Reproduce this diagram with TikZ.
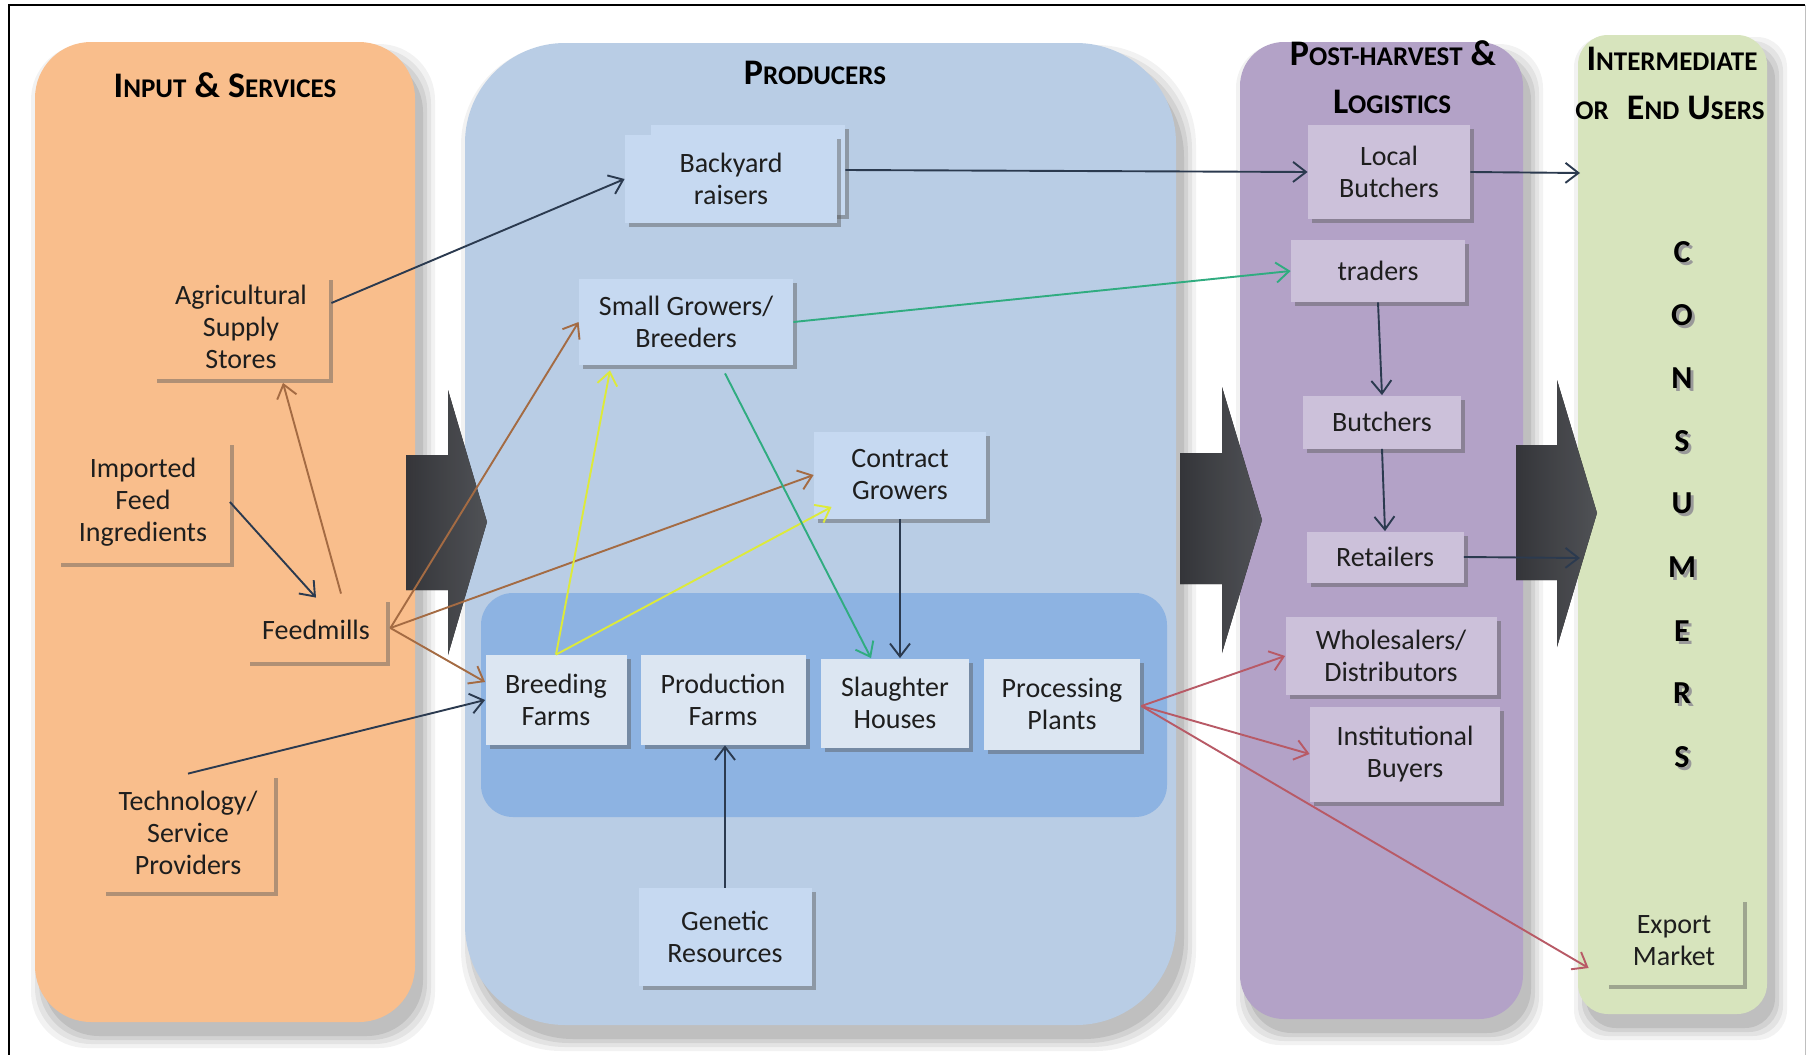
\documentclass[tikz,border=0pt]{standalone}
\usepackage{fontspec}
\setmainfont{Carlito}
\usetikzlibrary{arrows.meta,shadows,calc}

\definecolor{pOrange}{HTML}{F9BE8C}
\definecolor{pBlue}{HTML}{B9CDE5}
\definecolor{pInner}{HTML}{8DB3E2}
\definecolor{pPurple}{HTML}{B3A2C7}
\definecolor{pGreen}{HTML}{D7E4BD}
\definecolor{bBlue}{HTML}{C6D9F1}
\definecolor{bPale}{HTML}{DCE6F2}
\definecolor{bPurple}{HTML}{CCC1DA}
\definecolor{cNavy}{HTML}{2B3A4F}
\definecolor{cBrown}{HTML}{A46B43}
\definecolor{cYel}{HTML}{DDEA3A}
\definecolor{cTeal}{HTML}{30AC80}
\definecolor{cRed}{HTML}{B85A66}
\definecolor{cTxt}{HTML}{1E1E1E}
\definecolor{arrL}{HTML}{38393D}
\definecolor{arrR}{HTML}{55575C}

\newcommand{\bxfont}{\fontsize{14}{16}\selectfont}
\newcommand{\BigC}[1]{{\fontsize{18}{22}\selectfont #1}}
\newcommand{\SmC}[1]{{\fontsize{13.5}{22}\selectfont #1}}
\newcommand{\panelshadow}[5]{%
  \foreach \e/\o in {12/0.05,8/0.06,4/0.07,0/0.09}{%
    \fill[black,opacity=\o,rounded corners=#5] ({#1+8-\e},{#2+14-\e}) rectangle ({#3+8+\e},{#4+14+\e});
  }%
}

\tikzset{
  bx/.style 2 args={minimum width=#1*0.5pt, minimum height=#2*0.5pt},
  anybox/.style={inner sep=0pt, align=center, font=\bxfont, text=cTxt,
    drop shadow={shadow xshift=2pt, shadow yshift=-2pt, opacity=0.45, fill=black!65}},
  obox/.style={anybox, fill=pOrange},
  gbox/.style={anybox, fill=pGreen},
  bbox/.style={anybox, fill=bBlue},
  pbox/.style={anybox, fill=bPale},
  ubox/.style={anybox, fill=bPurple},
  ttl/.style={font=\fontsize{18}{22}\selectfont\bfseries, text=black, inner sep=0pt},
  con/.style={line width=0.95pt, -{Straight Barb[length=6.5pt,width=10pt]}},
  bigarrow/.style={left color=arrL, right color=arrR, opacity=0.93},
  letter/.style={font=\fontsize{16}{16}\selectfont\bfseries, text=black, inner sep=0pt},
  letshadow/.style={font=\fontsize{16}{16}\selectfont\bfseries, text=black!40, inner sep=0pt}
}

\begin{document}
\begin{tikzpicture}[x=0.5pt,y=-0.5pt]
\useasboundingbox (0,0) rectangle (1812,1055);
\fill[white] (0,0) rectangle (1812,1055);

% panels with soft shadows
\panelshadow{35}{42}{415}{1022}{28pt}
\fill[pOrange, rounded corners=28pt] (35,42) rectangle (415,1022);
\panelshadow{465}{43}{1176}{1025}{50pt}
\fill[pBlue, rounded corners=50pt] (465,43) rectangle (1176,1025);
\fill[pInner, rounded corners=16pt] (481,593) rectangle (1167,817);
\panelshadow{1240}{42}{1523}{1019}{22pt}
\fill[pPurple, rounded corners=22pt] (1240,42) rectangle (1523,1019);
\panelshadow{1578}{35}{1767}{1014}{15pt}
\fill[pGreen, rounded corners=15pt] (1578,35) rectangle (1767,1014);

% frame
\draw[line width=1.1pt, black] (9,1055) -- (9,5) -- (1805,5);
\draw[line width=0.4pt, black!25] (1805,5) -- (1805,1055);

% big block arrows
\fill[bigarrow] (406,455) -- (448,455) -- (448,390) -- (487,522) -- (448,655) -- (448,590) -- (406,590) -- cycle;
\fill[bigarrow] (1180,453) -- (1222,453) -- (1222,387) -- (1262,520) -- (1222,653) -- (1222,584) -- (1180,584) -- cycle;
\fill[bigarrow] (1516,445) -- (1557,445) -- (1557,380) -- (1597,513) -- (1557,647) -- (1557,580) -- (1516,580) -- cycle;

% titles
\node[ttl, anchor=base] (t1) at (225,97) {\BigC{I}\SmC{NPUT} \BigC{\&} \BigC{S}\SmC{ERVICES}};
\node[ttl, anchor=base] (t2) at (815,84) {\BigC{P}\SmC{RODUCERS}};
\node[ttl, anchor=base] (t3) at (1393,65) {\BigC{P}\SmC{OST-HARVEST} \BigC{\&}};
\node[ttl, anchor=base] (t4) at (1392,113) {\BigC{L}\SmC{OGISTICS}};
\node[ttl, anchor=base] (t5) at (1672,70) {\BigC{I}\SmC{NTERMEDIATE}};
\node[ttl, anchor=base] (t6) at (1670,119) {\SmC{OR}\hspace{5pt} \BigC{E}\SmC{ND} \BigC{U}\SmC{SERS}};

% input & services boxes
\node[obox, bx={176}{103}] (ag) at (241,327) {Agricultural\\Supply\\Stores};
\node[obox, bx={173}{122}] (imp) at (143,502) {Imported\\Feed\\Ingredients};
\node[obox, bx={140}{64}] (feed) at (316,630) {Feedmills};
\node[obox, bx={172}{118}] (tech) at (188,833) {Technology/\\Service\\Providers};

% producers boxes
\node[bbox, bx={194}{90}] (back2) at (748,170) {};
\node[bbox, bx={212}{88}] (back) at (731,179) {Backyard\\raisers};
\node[bbox, bx={214}{86}] (sg) at (686,322) {Small Growers/\\Breeders};
\node[bbox, bx={172}{87}] (cg) at (900,475) {Contract\\Growers};
\node[pbox, bx={141}{90}] (bf) at (556,700) {Breeding\\Farms};
\node[pbox, bx={165}{90}] (pf) at (723,700) {Production\\Farms};
\node[pbox, bx={148}{89}] (sh) at (895,703) {Slaughter\\Houses};
\node[pbox, bx={156}{91}] (pp) at (1062,704) {Processing\\Plants};
\node[bbox, bx={173}{98}] (gr) at (725,937) {Genetic\\Resources};

% post-harvest boxes
\node[ubox, bx={162}{94}] (lb) at (1389,172) {Local\\Butchers};
\node[ubox, bx={174}{62}] (tr) at (1378,271) {traders};
\node[ubox, bx={158}{53}] (bu) at (1382,422) {Butchers};
\node[ubox, bx={157}{51}] (re) at (1385,557) {Retailers};
\node[ubox, bx={211}{78}] (wh) at (1391,656) {Wholesalers/\\Distributors};
\node[ubox, bx={190}{95}] (ib) at (1405,754) {Institutional\\Buyers};

% end users
\node[gbox, bx={138}{87}] (ex) at (1674,941) {Export\\Market};
\foreach \l/\yy [count=\i] in {C/252,O/315,N/378,S/441,U/503,M/567,E/631,R/693,S/757}{
  \node[letshadow] (LS\i) at (1685,\yy+3.5) {\l};
  \node[letter] (L\i) at (1682,\yy) {\l};
}

% connectors
\coordinate (fo) at ($(feed.east)+(4,-2)$);
\coordinate (po) at ($(pp.east)+(1,2)$);
\coordinate (g1) at (1580,173);
\coordinate (g2) at (1580,558);

\draw[con, cNavy] ($(ag.east)+(2,-24)$) -- (back.west);
\draw[con, cNavy] (imp.east) -- (feed.north);
\draw[con, cBrown] ($(feed.north)+(25,-4)$) -- ($(ag.south)+(42,4)$);
\draw[con, cBrown] (fo) -- (sg.west);
\draw[con, cBrown] (fo) -- (cg.west);
\draw[con, cBrown] (fo) -- ($(bf.west)+(0,-18)$);
\draw[con, cNavy] (tech.north) -- (bf.west);
\draw[con, cYel] (bf.north) -- ($(sg.south)+(-76,5)$);
\draw[con, cYel] (bf.north) -- ($(cg.south west)+(18,-12)$);
\draw[con, cTeal] ($(sg.south)+(39,8)$) -- ($(sh.north)+(-24,0)$);
\draw[con, cTeal] (sg.east) -- (tr.west);
\draw[con, cNavy] (cg.south) -- (cg.south |- sh.north);
\draw[con, cNavy] (back2.east) -- (lb.west);
\draw[con, cNavy] (lb.east) -- (g1);
\draw[con, cNavy] (tr.south) -- (bu.north);
\draw[con, cNavy] (bu.south) -- (re.north);
\draw[con, cNavy] (re.east) -- (g2);
\draw[con, cRed] (po) -- (wh.west);
\draw[con, cRed] (po) -- (ib.west);
\draw[con, cRed] (po) -- ($(ex.west)+(-16,27)$);
\draw[con, cNavy] (gr.north) -- (gr.north |- pf.south);
\end{tikzpicture}
\end{document}
